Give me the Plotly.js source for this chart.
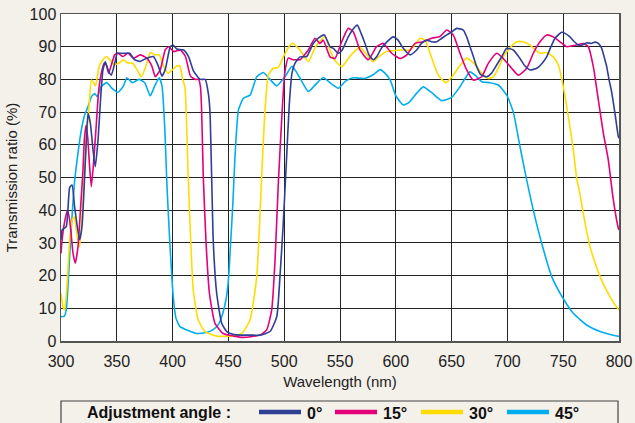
<!DOCTYPE html>
<html>
<head>
<meta charset="utf-8">
<script src="https://cdn.plot.ly/plotly-3.0.1.min.js"></script>
<style>
html,body{margin:0;padding:0;background:#F4F0EA;}
#chart{width:635px;height:423px;}
</style>
</head>
<body>
<div id="chart"></div>
<script>
// ---- data ----
const seriesNames = ["0°", "15°", "30°", "45°"];
const seriesColors = ["#2E3F95", "#E4007A", "#FFDC00", "#00AEEF"];

const wl0 = [300,301,304.7,307.8,309.9,312.2,314.6,316.7,318.8,320.6,322.7,324.2,326.3,328.7,330.7,333.2,335.6,337.6,339.7,342.1,345.1,348.1,350.5,353,357,361.5,366,370.8,376.8,382.8,387.3,390.5,393.4,397.9,400.3,403.8,409.8,414.3,418.8,424.8,429.2,432.2,433.5,435,436.5,439.5,444,448.5,455,460.4,470,478.3,487.3,493.3,496.2,499,502,504.5,507,509.7,514.2,520.2,526,530,536,541,544,548.5,552,557.4,562,565.5,569,572.4,576,579.8,583,587,592,597.7,602,606.7,612.7,618.7,623,627.7,632,636.6,641,645.6,650,654.5,660.5,663.5,666.5,669.5,672.5,676,681.4,686,690.4,695,699.4,705.3,711.3,716,720.3,726.3,730,735.2,739,742.7,748.6,752,756.1,760,763.5,767,771,775,778.5,781.5,784.5,787,789,791,793.4,796.4,799.4,800];
const t0  = [31,34,35,47,47.7,41,35,31,35,46,61.5,69.6,66.6,58.4,53.3,61.5,74.7,82.9,85.4,82.9,81.3,84.9,88,88,88,88,86,85.5,86.5,87,84,81,83,90,90.5,89.3,89,87,82.5,80,80,75.3,70,50,30,14.6,5.4,2.9,2,1.8,1.8,1.8,2.9,7.4,19.7,35,55,72,82,85,86.9,87,91,92.5,93.6,90,89.5,88,89,93,95.5,96.6,94,91,87.5,86,87,89.5,91.5,93,92,89.5,87.5,89,91,92,91.5,91.5,92.5,93.6,94.5,95.6,95.1,93,90,87,83.9,81.5,80.8,82,84.4,87,89.5,89,86.4,84,82.9,83.4,84.5,86.9,90,92.6,94.4,94,93,91.5,90.5,90.5,91.2,91,91.4,91,89.5,86.5,83.9,80,76.2,69.6,62.5,62];

const wl15 = [300,301,303,305.7,307.8,310.8,312.8,315.2,317.6,319.7,321,322.5,324,325.5,327.2,329.6,331.7,333.8,336.1,338.5,340.6,342.7,345.1,348.1,351,355.6,360,365,371,377,381.5,384.5,389,393.4,396.4,401,407,411.5,416,420.3,423.3,425,426,427.5,430,433,438,445.4,455,463.4,470,478.3,484.3,488.8,491.8,494.7,497.8,500.5,503.7,508.2,511,514.2,517,521.6,527.6,532,535,541,545.5,551.5,557.4,561.9,567.9,575.4,582.8,588.8,596.3,603.8,609.7,617.2,624.6,632.1,639.6,645.6,651.5,657.5,663.5,669.4,676.9,682.9,690.4,696.3,703.8,709.8,717.3,723.2,729.2,735.2,741.1,747.1,753.1,762,768,772.5,777,781.5,786,790.4,794.9,799.4,800];
const t15  = [26.8,31,36,40,37,26.8,23.8,28.8,41,52.3,62,66,62,54,47.2,56.4,66.6,76.8,81.9,84.9,84.4,81.9,84.4,87.5,88,87,88,86.5,87.5,86.5,84,80.8,83,89,90,88.5,89,87,81,80,80,77.6,70.6,50.2,29.9,14.6,5.4,2.3,1.5,1.1,1.3,1.8,3.4,9.5,24.8,48,68,82,86.5,86,86,86,87,89,92.6,91,92,86.9,86.4,91.5,95.6,94.6,89,86,90,91,88,86.4,87.4,91,91.5,92.6,93.1,95.1,93.6,88,82.9,79.8,80.8,84.9,88,86.4,83.4,81.3,83.4,88,91.5,93.6,93,91.5,90,90.5,91,90,83.9,73.7,63.5,55.4,43.2,34.5,34];

const wl30 = [300,301.8,303.3,305.7,307.8,310,312,314,316.7,319.7,322.7,324.8,327.2,329.6,331,333.8,336.1,340.6,345.1,348,352,356,360,364,368,372,376,380,384,388,392,396,400,404,406.6,409,411,414,418.5,423,429,439.5,451.4,461.9,469.4,475.4,479.8,482.8,485.8,490.2,494.7,499.2,505.2,508,511.2,514.2,521.6,528,536.6,541,545,551.5,560,567.9,573,579.8,585,591.8,598,603.8,612.7,617,621.7,626.2,632.2,638.1,644.7,651.5,657,663.5,668,672.5,678,682.9,687.4,692,696.3,702,708.3,714,720.3,725,729.2,735.2,741.1,745.6,750.1,754.6,759.1,762,765,768,774,783,792,799.4,800];
const t30  = [14.6,10.5,9.5,18.7,30.9,37,38,33,28.8,43,61.5,70,79.8,78.8,78,83.4,85.4,87,85.4,84.5,85,86,85,85,83,80.8,84,88.2,87.5,87.5,84,81.9,83,84.2,83.9,80,77.8,50.2,15.6,6.4,2.9,1.5,1.5,2.3,6.4,19.7,50.2,70.6,81.3,83.4,83.7,86.9,90.5,91,90,89,85.4,90,93.1,89,86,83.9,87.5,89.8,88,85.4,87,88.5,88.8,89,89,90.5,92.6,92,86.5,81.3,79,81.3,84,86.5,85.5,83.9,81.5,80.3,80.8,83.5,86.9,89.5,91.5,91.5,90.5,89,88,88.2,86.9,84.4,77.8,68.6,58.4,50,45,39,28.8,19.7,13.5,9.7,9.5];

const wl45 = [300,303,304.7,306.9,309.3,312.3,315.2,318.2,321.2,324.2,327.2,330.2,332.5,336.1,341,345,351,356,359,364,370,375,380,384,388,390.5,393,395,397.7,400.6,403,406.6,414,421.6,430,436,441,445,448,450,452,454,456,459,463.4,469.4,475.4,481.3,487.3,493.3,500.7,507,514,521.6,527,535,541,548.5,555,562,572,580,586,590,595,600,606.7,612,618,624.6,632,641,650,657,666.5,672,677,684.4,691.8,699.4,705.3,711.3,717.3,723.2,730.7,739.7,750,759,771,783,792,800];
const t45  = [7.4,7.6,9.5,20.7,35,49.2,57.4,64.5,69.1,71.6,74.7,75.7,74.7,77.8,79,77.5,76,78,80.5,79,80,79,75,78,80.5,78,65,47,29,13.5,7,4.4,3.2,2.3,2.6,3.4,5,8.5,13,18.6,30,42,57,70.6,74.2,75.2,80.8,82.1,80,78,80.8,84,80.5,76.3,78,80.6,79,77.3,79.5,80.5,80.3,81.5,83,82,79.8,75,72.2,73,75.5,77.7,76,73.5,74.5,77.5,82.3,81,79.3,79,78.3,75.2,70,59.4,49.2,40,29.9,19.7,13,8.5,4.9,2.9,2,1.4];

const xTicks = [300,350,400,450,500,550,600,650,700,750,800];
const yTicks = [0,10,20,30,40,50,60,70,80,90,100];
const xTitle = "Wavelength (nm)";
const yTitle = "Transmission ratio (%)";
const legendTitle = "Adjustment angle :";

// ---- build ----
const xs = [wl0, wl15, wl30, wl45];
const ys = [t0, t15, t30, t45];
const drawOrder = [3, 2, 1, 0];
const traces = drawOrder.map(i => ({
  x: xs[i], y: ys[i], type: "scatter", mode: "lines", name: seriesNames[i],
  line: {color: seriesColors[i], width: 1.6, shape: "spline", smoothing: 0.5},
  showlegend: false, hoverinfo: "skip"
}));

const font = "Liberation Sans, Arial, sans-serif";
const L = 61, R = 619, T = 14, B = 341, W = 635, H = 423;
const px2x = p => (p - L) / (R - L);
const py2y = p => (B - p) / (B - T);

const shapes = [];
const annotations = [];
shapes.push({type: "rect", xref: "paper", yref: "paper",
  x0: px2x(61), x1: px2x(618), y0: py2y(401), y1: py2y(430),
  line: {color: "#444", width: 1.2}, fillcolor: "rgba(0,0,0,0)", layer: "above"});
annotations.push({xref: "paper", yref: "paper", x: px2x(85), y: py2y(412), xanchor: "left", yanchor: "middle",
  text: "<b>" + legendTitle + "</b>", showarrow: false, font: {family: font, size: 16, color: "#111"}});
const lineStarts = [259, 335, 421, 507];
seriesNames.forEach((n, i) => {
  const s = lineStarts[i];
  shapes.push({type: "line", xref: "paper", yref: "paper",
    x0: px2x(s), x1: px2x(s + 42), y0: py2y(412), y1: py2y(412),
    line: {color: seriesColors[i], width: 4.5}, layer: "above"});
  annotations.push({xref: "paper", yref: "paper", x: px2x(s + 46), y: py2y(413), xanchor: "left", yanchor: "middle",
    text: "<b>" + n + "</b>", showarrow: false, font: {family: font, size: 16, color: "#111"}});
});

const layout = {
  width: W, height: H,
  paper_bgcolor: "#F4F0EA", plot_bgcolor: "#FFFFFF",
  margin: {l: L, r: W - R, t: T, b: H - B, pad: 0},
  showlegend: false,
  xaxis: {
    range: [300, 800], tickvals: xTicks, ticktext: xTicks.map(String),
    showgrid: true, gridcolor: "#222", gridwidth: 1,
    showline: true, linecolor: "#555", linewidth: 1.5, mirror: true,
    zeroline: false, ticks: "", ticklen: 0, ticklabelstandoff: 5,
    tickfont: {family: font, size: 16, color: "#222"},
    title: {text: xTitle, font: {family: font, size: 15, color: "#222"}, standoff: 8},
    fixedrange: true
  },
  yaxis: {
    range: [0, 100], tickvals: yTicks, ticktext: yTicks.map(String),
    showgrid: true, gridcolor: "#222", gridwidth: 1,
    showline: true, linecolor: "#555", linewidth: 1.5, mirror: true,
    zeroline: false, ticks: "", ticklen: 0,
    tickfont: {family: font, size: 16, color: "#222"},
    title: {text: yTitle, font: {family: font, size: 15, color: "#222"}, standoff: 8},
    fixedrange: true
  },
  shapes: shapes,
  annotations: annotations
};

Plotly.newPlot("chart", traces, layout, {displayModeBar: false, staticPlot: true});
</script>
</body>
</html>
